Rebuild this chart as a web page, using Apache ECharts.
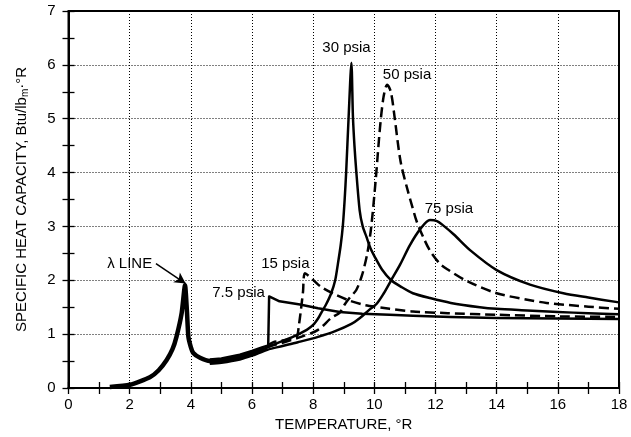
<!DOCTYPE html>
<html>
<head>
<meta charset="utf-8">
<script src="https://cdn.jsdelivr.net/npm/echarts@6/dist/echarts.min.js"></script>
<style>
html,body{margin:0;padding:0;background:#fff;}
#chart{width:631px;height:437px;}
</style>
</head>
<body>
<div id="chart"></div>
<script>
// ---- data ----
const lambdaX = [1.35, 2.01, 2.66, 2.95, 3.21, 3.4, 3.53, 3.7, 3.81, 3.87, 3.92, 4.0, 4.08, 4.3, 4.62, 5.0, 5.6, 6.0, 6.3];
const lambdaY = [0.02, 0.06, 0.2, 0.33, 0.52, 0.72, 0.95, 1.39, 1.91, 1.45, 0.95, 0.76, 0.65, 0.56, 0.5, 0.51, 0.58, 0.64, 0.7];

const p7_5X = [4.62, 5.0, 5.6, 6.0, 6.3, 6.53, 6.56, 6.9, 7.57, 8.16, 8.87, 9.6, 10.5, 11.26, 12.5, 14, 16, 18];
const p7_5Y = [0.53, 0.55, 0.62, 0.69, 0.75, 0.79, 1.7, 1.61, 1.55, 1.48, 1.41, 1.38, 1.36, 1.34, 1.32, 1.3, 1.29, 1.28];

const p15X = [4.62, 5.0, 5.6, 6.0, 6.5, 6.7, 7.1, 7.46, 7.53, 7.6, 7.67, 7.73, 8.25, 8.7, 9.15, 9.68, 10.5, 11.26, 12.4, 14, 16, 18];
const p15Y = [0.51, 0.53, 0.6, 0.66, 0.79, 0.85, 0.89, 0.94, 1.15, 1.45, 1.8, 2.13, 1.88, 1.74, 1.63, 1.54, 1.47, 1.42, 1.39, 1.36, 1.33, 1.32];

const p30X = [4.62, 5.0, 5.6, 6.0, 6.45, 6.81, 7.3, 7.79, 8.0, 8.16, 8.26, 8.42, 8.59, 8.72, 8.81, 8.9, 8.97, 9.03, 9.08, 9.16, 9.25, 9.3, 9.35, 9.41, 9.52, 9.62, 9.74, 9.87, 10.01, 10.25, 10.55, 10.9, 11.26, 11.82, 12.5, 13.45, 14, 15, 16, 17, 18];
const p30Y = [0.49, 0.51, 0.57, 0.64, 0.74, 0.83, 0.94, 1.08, 1.17, 1.29, 1.39, 1.55, 1.76, 2.0, 2.31, 2.65, 3.01, 3.5, 4.02, 5.04, 6.04, 5.04, 4.5, 4.02, 3.3, 3.0, 2.81, 2.6, 2.44, 2.2, 2.0, 1.87, 1.76, 1.67, 1.58, 1.5, 1.47, 1.44, 1.41, 1.39, 1.37];

const p50X = [4.62, 5.0, 5.6, 6.0, 6.5, 7.0, 7.6, 8.16, 8.59, 8.87, 9.03, 9.2, 9.41, 9.6, 9.77, 9.9, 10.05, 10.18, 10.3, 10.42, 10.54, 10.66, 10.86, 11.1, 11.25, 11.38, 11.6, 11.82, 12.14, 12.4, 13.05, 14, 15, 15.63, 17, 18];
const p50Y = [0.47, 0.49, 0.55, 0.62, 0.76, 0.84, 0.95, 1.08, 1.3, 1.4, 1.55, 1.68, 1.82, 2.1, 2.5, 3.0, 3.9, 4.8, 5.4, 5.63, 5.5, 5.04, 4.2, 3.65, 3.35, 3.1, 2.8, 2.55, 2.31, 2.2, 1.98, 1.76, 1.64, 1.58, 1.51, 1.47];

const p75X = [4.62, 5.0, 5.6, 6.0, 6.5, 7.0, 7.5, 8.16, 8.7, 9.25, 9.53, 9.85, 10.07, 10.3, 10.55, 10.85, 11.16, 11.5, 11.82, 12.05, 12.25, 12.6, 13.13, 14.0, 15.09, 16.18, 17.0, 18.0];
const p75Y = [0.45, 0.47, 0.53, 0.6, 0.71, 0.78, 0.85, 0.95, 1.05, 1.19, 1.3, 1.46, 1.56, 1.75, 2.0, 2.3, 2.65, 2.95, 3.12, 3.1, 3.02, 2.85, 2.56, 2.19, 1.92, 1.76, 1.68, 1.59];

// annotation texts and their data-space anchor points
const annotText = ['30 psia', '50 psia', '75 psia', '15 psia', '7.5 psia', 'λ LINE'];
const annotX = [9.09, 11.07, 12.44, 7.09, 5.56, 2.0];
const annotY = [6.31, 5.81, 3.32, 2.30, 1.76, 2.30];
const arrowFrom = [2.86, 2.31];
const arrowTo = [3.83, 1.94];

const xTitle = 'TEMPERATURE, °R';
const yTitle = 'SPECIFIC HEAT CAPACITY, Btu/lb{sub|m}·°R';

// ---- chart ----
const FONT = 'Liberation Sans, Arial, Helvetica, sans-serif';
const zip = (xs, ys) => xs.map((x, i) => [x, ys[i]]);
const tickStyle = {color: '#000', width: 1.3};

function curve(name, xs, ys, dashed, width, smooth) {
  return {
    name: name, type: 'line', data: zip(xs, ys), showSymbol: false, symbol: 'none',
    smooth: smooth, lineStyle: {color: '#000', width: width || 2.5, type: dashed ? [10, 5] : 'solid', join: 'round', cap: 'butt'},
    z: 3, silent: true
  };
}

const chart = echarts.init(document.getElementById('chart'), null, {renderer: 'canvas'});
const option = {
  animation: false,
  backgroundColor: '#fff',
  textStyle: {fontFamily: FONT, color: '#000'},
  grid: {left: 68.5, right: 12, top: 11, bottom: 49, show: true, borderColor: '#000', borderWidth: 2, containLabel: false},
  xAxis: [
    {
      type: 'value', min: 0, max: 18, interval: 2, position: 'bottom',
      axisLine: {show: true, lineStyle: {color: '#000', width: 2}},
      axisTick: {show: true, inside: true, length: 6, lineStyle: tickStyle},
      minorTick: {show: true, splitNumber: 2, length: 6, lineStyle: tickStyle},
      splitLine: {show: true, lineStyle: {color: '#000', width: 1, type: [1, 2]}},
      axisLabel: {fontSize: 15, color: '#000', margin: 9, fontFamily: FONT},
      name: xTitle, nameLocation: 'middle', nameGap: 29,
      nameTextStyle: {fontSize: 15, color: '#000', fontFamily: FONT}
    },
    {
      type: 'value', min: 0, max: 18, interval: 2, position: 'top',
      axisLine: {show: true, lineStyle: {color: '#000', width: 2}},
      axisTick: {show: true, inside: true, length: 6, lineStyle: tickStyle},
      minorTick: {show: true, splitNumber: 2, length: 6, lineStyle: tickStyle},
      splitLine: {show: false}, axisLabel: {show: false}
    }
  ],
  yAxis: [
    {
      type: 'value', min: 0, max: 7, interval: 1, position: 'left',
      axisLine: {show: true, lineStyle: {color: '#000', width: 2}},
      axisTick: {show: true, inside: true, length: 6, lineStyle: tickStyle},
      minorTick: {show: true, splitNumber: 2, length: 6, lineStyle: tickStyle},
      splitLine: {show: true, lineStyle: {color: '#000', width: 1, type: [1, 2]}},
      axisLabel: {fontSize: 15, color: '#000', margin: 13, fontFamily: FONT},
      name: yTitle, nameLocation: 'middle', nameGap: 38,
      nameTextStyle: {fontSize: 15, color: '#000', fontFamily: FONT,
        rich: {sub: {fontSize: 10, fontFamily: FONT, color: '#000', padding: [7, 0, 0, 0]}}}
    },
    {
      type: 'value', min: 0, max: 7, interval: 1, position: 'right',
      axisLine: {show: true, lineStyle: {color: '#000', width: 2}},
      axisTick: {show: true, inside: true, length: 6, lineStyle: tickStyle},
      minorTick: {show: true, splitNumber: 2, length: 6, lineStyle: tickStyle},
      splitLine: {show: false}, axisLabel: {show: false}
    }
  ],
  series: [
    curve('λ line', lambdaX, lambdaY, false, 4.5, 0.2),
    curve('7.5 psia', p7_5X, p7_5Y, false, 2.5, false),
    curve('15 psia', p15X, p15Y, true, 2.5, 0.2),
    curve('30 psia', p30X, p30Y, false, 2.5, 0.25),
    curve('50 psia', p50X, p50Y, true, 2.5, 0.3),
    curve('75 psia', p75X, p75Y, false, 2.5, 0.3),
    {
      name: 'labels', type: 'scatter', symbolSize: 0, silent: true, z: 5,
      itemStyle: {opacity: 1},
      data: annotX.map((x, i) => ({value: [x, annotY[i]], name: annotText[i]})),
      label: {show: true, position: 'inside', formatter: p => p.name, fontSize: 15, color: '#000',
        opacity: 1, textBorderWidth: 0, fontFamily: FONT},
      markLine: {
        silent: true, symbol: ['none', 'arrow'], symbolSize: [9, 11], animation: false,
        label: {show: false},
        lineStyle: {color: '#000', width: 1.5, type: 'solid', curveness: 0.3, opacity: 1},
        data: [[{coord: arrowFrom}, {coord: arrowTo}]]
      }
    }
  ]
};
chart.setOption(option);
</script>
</body>
</html>
